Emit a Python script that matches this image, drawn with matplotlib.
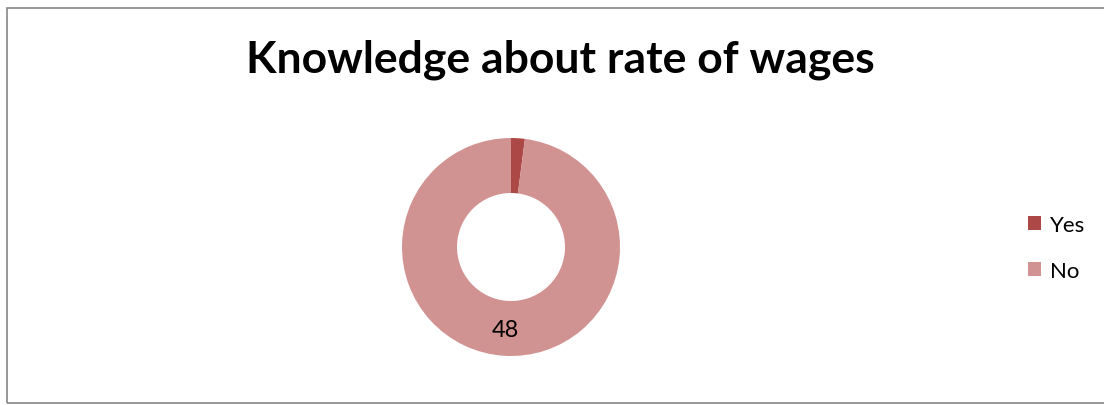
import matplotlib
matplotlib.use("Agg")
import matplotlib.pyplot as plt
from matplotlib.patches import Rectangle

# data
labels = ["Yes", "No"]
counts = [1, 48]
colors = ["#AC4846", "#D19392"]
title = "Knowledge about rate of wages"

W, H = 1104, 406
fig = plt.figure(figsize=(W / 100, H / 100), dpi=100)
ax = fig.add_axes([0, 0, 1, 1])

def show_value(pct):
    n = round(pct * sum(counts) / 100)
    return str(n) if n > 1 else ""

wedges, texts, autotexts = ax.pie(
    counts, colors=colors, startangle=90, counterclock=False,
    center=(511, H - 248), radius=109,
    wedgeprops=dict(width=55, linewidth=0),
    autopct=show_value, pctdistance=0.76,
    textprops=dict(fontsize=17, family="Lato", color="black"),
)
ax.set_xlim(0, W)
ax.set_ylim(0, H)
ax.set_aspect("equal")
ax.axis("off")

# chart border
fig.patches.append(Rectangle((6.5 / W, (H - 403.5) / H), 1.1, (403.5 - 8.5) / H,
                             transform=fig.transFigure, fill=False,
                             edgecolor="#868686", linewidth=1.2))

fig.text(560 / W, 1 - 60 / H, title, ha="center", va="center",
         fontsize=32, fontweight="bold", family="Lato")

leg = fig.legend(wedges, labels, loc="upper left",
                 bbox_to_anchor=(1008 / W, 1 - 196 / H),
                 frameon=False, handlelength=0.6, handleheight=0.6,
                 handletextpad=0.4, labelspacing=1.15,
                 prop=dict(family="Lato", size=16))

fig.savefig("out.png", dpi=100)
